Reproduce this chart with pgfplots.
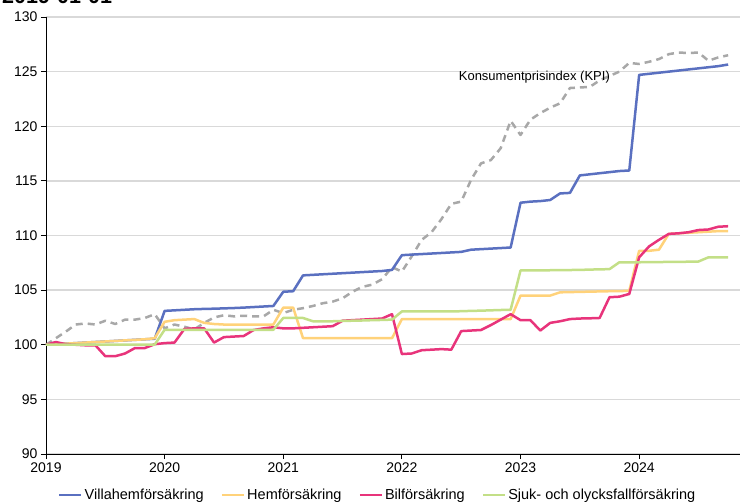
\documentclass[border=0pt]{standalone}
\usepackage{fontspec}
\setmainfont{Liberation Sans}
\usepackage{pgfplots}
\usepackage{pgfplotstable}
\pgfplotsset{compat=1.18}

\definecolor{villa}{RGB}{90,112,192}
\definecolor{hem}{RGB}{255,210,122}
\definecolor{bil}{RGB}{232,52,123}
\definecolor{sjuk}{RGB}{195,223,135}
\definecolor{kpi}{RGB}{168,168,168}
\definecolor{gridgray}{RGB}{217,217,217}

% Monthly index values, 2019-01 = 0 ... 2024-10 = 69
\pgfplotstableread{
m  villa   hem     bil     sjuk    kpi
0  100.00  100.00  100.00  100.00  100.00
1  100.05  100.05  100.25  100.00  100.60
2  100.10  100.10  100.05  100.00  101.20
3  100.15  100.15  100.00  100.00  101.85
4  100.20  100.20  99.95   100.00  101.95
5  100.25  100.25  99.95   100.00  101.85
6  100.30  100.30  98.95   100.00  102.20
7  100.35  100.35  98.95   100.00  101.90
8  100.40  100.40  99.20   100.00  102.30
9  100.45  100.45  99.70   100.00  102.30
10 100.50  100.50  99.70   100.00  102.45
11 100.55  100.60  100.05  100.02  102.80
12 103.10  102.10  100.15  101.37  101.50
13 103.15  102.25  100.20  101.37  101.85
14 103.20  102.30  101.45  101.37  101.65
15 103.25  102.35  101.50  101.37  101.40
16 103.28  102.00  101.50  101.37  102.00
17 103.30  101.90  100.20  101.37  102.50
18 103.33  101.85  100.70  101.37  102.70
19 103.36  101.85  100.75  101.37  102.60
20 103.40  101.85  100.80  101.37  102.65
21 103.45  101.85  101.35  101.37  102.60
22 103.50  101.85  101.50  101.37  102.60
23 103.55  101.85  101.60  101.37  103.20
24 104.85  103.40  101.50  102.45  102.90
25 104.90  103.40  101.50  102.45  103.20
26 106.35  100.60  101.55  102.45  103.35
27 106.40  100.60  101.60  102.15  103.55
28 106.45  100.60  101.65  102.15  103.80
29 106.50  100.60  101.70  102.15  103.95
30 106.55  100.60  102.20  102.18  104.25
31 106.60  100.60  102.25  102.20  104.85
32 106.65  100.60  102.30  102.22  105.30
33 106.70  100.60  102.35  102.25  105.50
34 106.75  100.60  102.40  102.27  106.00
35 106.85  100.60  102.80  102.30  107.10
36 108.20  102.35  99.15   103.05  106.70
37 108.25  102.35  99.20   103.05  108.10
38 108.30  102.35  99.50   103.05  109.60
39 108.35  102.35  99.55   103.05  110.30
40 108.40  102.35  99.60   103.05  111.50
41 108.45  102.35  99.55   103.05  112.90
42 108.50  102.35  101.25  103.07  113.10
43 108.70  102.35  101.30  103.10  115.10
44 108.75  102.35  101.35  103.12  116.60
45 108.80  102.35  101.80  103.15  116.90
46 108.85  102.35  102.30  103.18  118.00
47 108.90  102.35  102.80  103.20  120.50
48 113.00  104.50  102.25  106.80  119.20
49 113.10  104.50  102.25  106.80  120.60
50 113.15  104.50  101.30  106.80  121.20
51 113.25  104.50  102.00  106.82  121.70
52 113.85  104.80  102.15  106.83  122.10
53 113.90  104.82  102.35  106.84  123.50
54 115.50  104.84  102.40  106.85  123.55
55 115.60  104.86  102.42  106.88  123.60
56 115.70  104.88  102.45  106.90  124.20
57 115.80  104.90  104.35  106.92  124.60
58 115.90  104.90  104.40  107.55  125.00
59 115.95  104.95  104.65  107.55  125.80
60 124.70  108.60  108.00  107.55  125.70
61 124.80  108.60  109.00  107.56  125.90
62 124.90  108.70  109.60  107.57  126.15
63 125.00  110.15  110.15  107.58  126.60
64 125.10  110.20  110.20  107.59  126.75
65 125.20  110.25  110.30  107.60  126.70
66 125.30  110.30  110.50  107.62  126.75
67 125.40  110.35  110.55  108.00  126.00
68 125.50  110.40  110.80  108.00  126.30
69 125.65  110.40  110.85  108.00  126.50
}\indexdata

\begin{document}
\begin{tikzpicture}
\useasboundingbox (-46pt,-50pt) rectangle (694pt,454pt);
% base date heading, set above the plot's upper edge
\node[anchor=base west, font=\bfseries\fontsize{21.5}{24}\selectfont, inner sep=0pt]
  at (-44pt,450pt) {2019-01-01};
\begin{axis}[
  at={(0pt,0pt)}, anchor=south west,
  scale only axis, width=694pt, height=437pt,
  xmin=0, xmax=70.2, ymin=90, ymax=130,
  axis x line*=bottom, axis y line*=left,
  axis line style={black, line width=0.9pt},
  xtick={0,12,24,36,48,60},
  xticklabels={2019,2020,2021,2022,2023,2024},
  ytick={90,95,...,130},
  tick align=outside, major tick length=5pt,
  tick style={black, line width=0.9pt},
  ymajorgrids, grid style={gridgray, line width=1.3pt},
  /pgf/number format/assume math mode=true,
  tick label style={font=\fontsize{14}{16}\selectfont},
  legend columns=4,
  legend style={at={(axis description cs:0.478,-0.094)}, anchor=center,
    draw=none, fill=none, inner sep=0pt,
    font=\fontsize{14.5}{17}\selectfont,
    /tikz/every even column/.append style={column sep=15pt},
    cells={anchor=west}},
  legend image code/.code={\draw[#1] (0pt,0pt) -- (22pt,0pt);},
  every axis plot/.append style={line width=2.5pt, line join=round},
]
\addplot[kpi, dash pattern=on 7pt off 5pt, forget plot] table[x=m, y=kpi] {\indexdata};
\addplot[villa] table[x=m, y=villa] {\indexdata};
\addlegendentry{Villahemförsäkring}
\addplot[hem] table[x=m, y=hem] {\indexdata};
\addlegendentry{Hemförsäkring}
\addplot[bil] table[x=m, y=bil] {\indexdata};
\addlegendentry{Bilförsäkring}
\addplot[sjuk] table[x=m, y=sjuk] {\indexdata};
\addlegendentry{Sjuk- och olycksfallförsäkring}
\node[font=\fontsize{13}{15}\selectfont] at (axis cs:49.4,124.45) {Konsumentprisindex (KPI)};
\end{axis}
\end{tikzpicture}
\end{document}
